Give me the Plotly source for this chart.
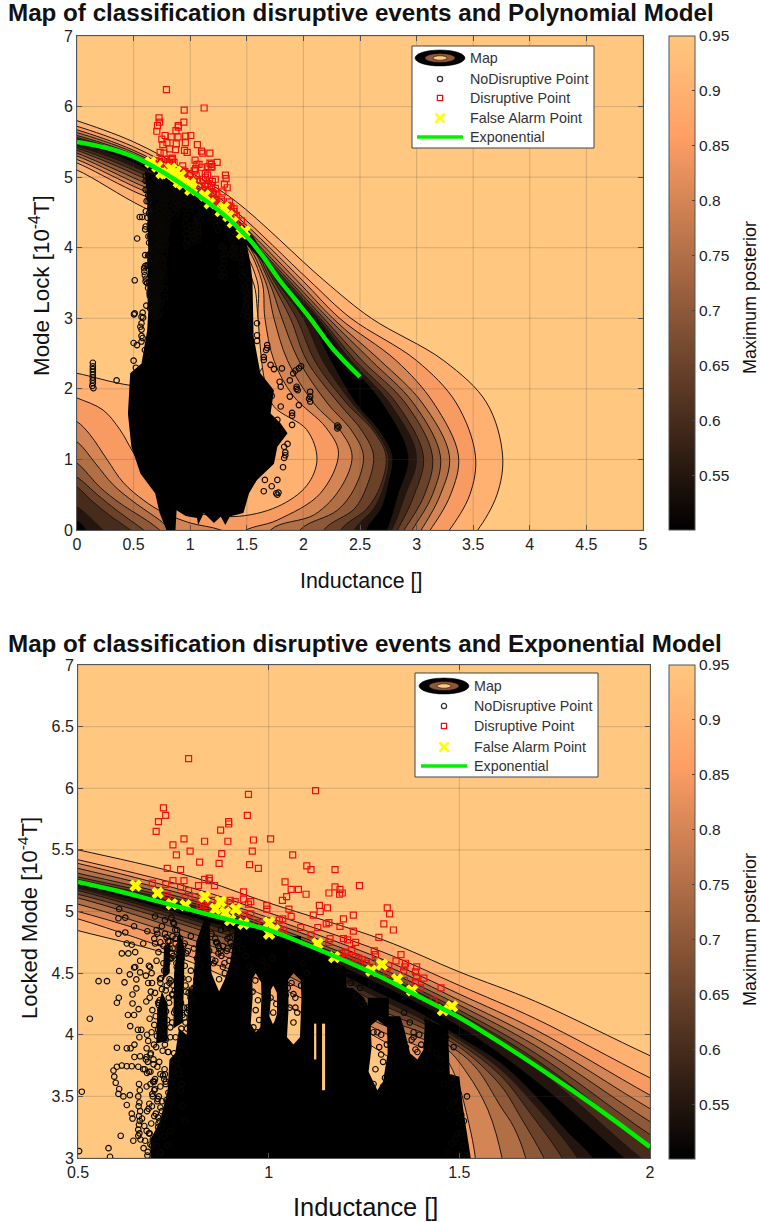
import plotly.graph_objects as go

# ---------- shared measured points (x = inductance, y = locked mode) ----------
DISRUPT_X = [.79,.947,1.123,.724,.711,.73,.705,.944,.895,.895,.874,.778,.749,.832,.893,.96,1.005,.794,.758,.877,.957,1.063,.819,.87,.95,.973,.734,.769,1.10,1.111,1.174,.749,.778,.832,.844,.844,.695,.73,.769,.816,.858,.79,1.043,1.059,1.078,1.098,1.174,1.187,1.193,1.186,1.158,1.238,.934,.934,.953,.947,1.047,1.036,1.133,1.154,1.135,.995,.995,1.053,1.059,1.117,1.222,1.196,.953,.934,1.037,1.028,1.084,1.129,1.158,1.151,1.187,1.222,1.111,1.161,1.196,1.207,1.228,1.218,1.158,.982,.969,.734,.781,.807,.899,.912,.899,.851,.829,.838,.82,1.039,1.03,1.311,1.317,1.302,1.327,1.289,1.277,1.28,1.347,1.334,1.359,1.357,1.354,1.388,1.385,1.388,1.407,1.385,1.398,1.452,1.272,1.315,1.31,1.356,1.192,1.197,1.201,1.205,1.227,1.236,1.245,1.254,1.433]
DISRUPT_Y = [6.24,5.95,5.98,5.84,5.73,5.78,5.65,5.78,5.73,5.71,5.66,5.59,5.54,5.57,5.57,5.58,5.59,5.49,5.46,5.47,5.49,5.46,5.40,5.39,5.38,5.35,5.35,5.34,5.37,5.34,5.34,5.25,5.25,5.26,5.27,5.25,5.23,5.22,5.20,5.21,5.21,5.17,5.24,5.18,5.18,5.14,5.20,5.18,5.15,5.14,5.15,5.21,5.16,5.10,5.08,5.06,5.12,5.09,5.05,5.03,5.0,5.05,5.02,5.02,4.96,4.97,4.97,4.94,4.98,4.97,4.94,4.93,4.87,4.87,4.91,4.90,4.88,4.84,4.81,4.78,4.78,4.77,4.75,4.69,4.75,4.91,4.91,5.13,5.12,5.12,5.09,5.08,5.06,5.09,5.05,5.03,5.05,4.85,4.85,5.03,4.98,4.90,4.85,4.79,4.68,4.65,4.65,4.60,4.58,4.55,4.52,4.55,4.51,4.47,4.46,4.43,4.38,4.38,4.59,4.56,4.50,4.44,4.66,4.63,4.67,4.63,4.63,4.62,4.61,4.58,4.28]
FALSE_X = [.651,.709,.746,.782,.832,.874,.86,.886,.914,.899,.934,1.001,1.015,1.001,1.128,1.172,1.269,1.297,1.337,1.376,1.481,1.457]
FALSE_Y = [5.21,5.15,5.06,5.05,5.12,5.08,5.02,4.99,5.02,4.93,4.90,4.91,4.85,4.82,4.74,4.63,4.52,4.57,4.45,4.36,4.23,4.20]

NO_LEFT_X = [.554,.576,.608,.531,.51,.503,.58,.584,.612,.602,.607,.622,.636,.663,.647,.653,.643,.653,.643,.631,.647,.659,.637,.602,.628,.638,.648,.661,.657,.666,.68,.648,.663,.678,.593,.602,.615,.628,.641,.658,.671,.681,.595,.599,.608,.606,.619,.636,.628,.641,.643,.645,.658]
NO_LEFT_Y = [4.435,4.435,4.517,4.13,3.538,3.056,3.08,3.01,3.18,4.26,4.30,4.425,4.49,4.506,4.546,4.449,4.327,4.376,4.254,4.16,4.16,4.208,4.07,3.895,3.89,3.89,3.92,3.98,4.04,4.04,3.89,3.82,3.825,3.80,3.71,3.74,3.75,3.745,3.745,3.74,3.72,3.69,3.66,3.61,3.56,3.52,3.5,3.51,3.43,3.36,3.32,3.14,3.18]
NO_COLUMN_X = [.66,.662,.658,.661,.659,.663,.66,.662,.66,.658,.661,.664]
NO_COLUMN_Y = [3.6,3.55,3.5,3.45,3.42,3.38,3.34,3.3,3.27,3.23,3.2,3.15]
NO_HIGH_X = [.608,.606,.624,.647,.606,.624,.682,.702,.706,.75,.728,.755,.628,.641,.65,.615,.632,.663,.671,.702,.711,.733,.746,.706,.737,.65,.689,.759]
NO_HIGH_Y = [5.02,4.945,4.95,4.88,4.82,4.83,4.84,4.96,4.85,4.91,4.93,4.85,4.74,4.73,4.67,4.66,4.66,4.6,4.74,4.74,4.67,4.70,4.66,4.6,4.62,4.55,4.55,4.55]
NO_EDGE_X = [.684,.691,.679,.695,.688,.7,.693,.684,.705,.69,.698,.686,.702,.68,.695,.708,.685,.7,.692,.68,.706,.69,.683,.7,.693,.688,.704,.681,.697,.71,.715,.72,.712,.725,.718,.73,.722,.713,.728,.716,.732,.72,.711,.726,.735,.718,.73,.714,.727,.72,.733,.716,.724,.737,.73,.738,.742,.745,.74,.748,.752,.756,.76,.765,.77,.775,.78,.773,.763,.752,.742,.747,.768,.783,.79,.796]
NO_EDGE_Y = [4.42,4.35,4.27,4.2,4.13,4.08,4.02,3.95,3.9,3.84,3.76,3.7,3.64,3.58,3.52,3.46,3.4,3.34,3.28,3.22,3.17,3.11,3.05,3.02,4.5,4.3,4.15,4.0,3.62,3.33,4.45,4.37,4.24,4.16,4.05,3.96,3.87,3.78,3.68,3.58,3.47,3.38,3.28,3.18,3.1,3.04,4.52,4.28,3.72,3.25,4.4,4.2,4.03,3.86,3.62,3.42,3.22,4.62,4.45,4.32,4.18,3.98,3.8,3.68,3.55,3.42,3.3,3.6,3.72,3.85,3.98,4.1,4.25,4.35,4.45,4.52]
NO_GAPS_X = [.86,.87,.88,.865,.89,.875,.885,.897,.905,.87,.965,.958,.972,.966,.975,.96,.97,1.005,1.02,1.035,1.05,1.065,1.07,1.012,1.03,1.045,1.06,1.075,1.02,1.04,1.055,1.07,1.065,1.085,1.215,1.225,1.24,1.23,1.245,1.275,1.29,1.3,1.28,1.295,1.305,1.285,1.3,1.31,1.275,1.295,1.355,1.37,1.38,1.36,1.375,1.385,1.395,1.4,1.38,1.39,1.48,1.49,1.485,1.495,1.5,1.505,1.49,1.51,1.5,1.515,1.505,1.52,1.512,1.495,1.48,1.47,1.46,1.45,1.44,1.475,1.465,1.45,1.485,1.415,1.425]
NO_GAPS_Y = [4.6,4.7,4.55,4.75,4.68,4.85,4.5,4.6,4.72,4.45,4.44,4.35,4.28,4.2,4.12,4.06,4.02,4.3,4.25,4.2,4.38,4.33,4.22,4.18,4.14,4.32,4.42,4.18,4.08,4.12,4.22,4.3,4.1,4.4,4.42,4.48,4.38,4.32,4.25,4.02,3.9,3.78,3.72,3.84,3.65,4.02,3.58,3.92,3.6,4.0,4.18,4.1,4.02,3.9,3.96,3.88,4.0,3.92,3.98,3.86,3.65,3.55,3.45,3.38,3.28,3.2,3.15,3.1,3.03,3.02,3.35,3.5,3.3,3.2,3.12,3.05,3.6,3.72,3.85,3.4,3.98,3.8,3.9,4.12,4.18]
NO_DENSE_X = [.672,.676,.682,.688,.694,.668,.674,.681,.687,.696,.702,.709,.716,.723,.73,.737,.744,.751,.758,.765,.772,.779,.786,.675,.683,.691,.699,.707,.715,.723,.731,.739,.747,.755,.763,.771,.779,.787,.795,.803,.81,.678,.686,.694,.702,.71,.718,.726,.734,.742,.75,.758,.766,.774,.782,.79,.798,.806,.814,.7,.708,.716,.724,.732,.74,.748,.756,.764,.772,.78,.788,.796,.804,.812,.82,.828,.836,.844,.852,.86,.868,.876,.884,.892,.9,.908,.84,.85,.862,.874,.886,.898,.91,.856,.868,.88,.892,.904,.92,.93,.94,.95,.985,.995,1.01,1.09,1.1,1.11]
NO_DENSE_Y = [3.08,3.14,3.02,3.2,3.1,3.32,3.26,3.38,3.44,3.5,3.56,3.48,3.41,3.67,3.6,3.53,3.62,3.7,3.77,3.84,3.91,3.98,4.05,3.72,3.78,3.85,3.92,3.99,4.06,4.12,4.19,4.26,4.33,4.2,4.12,4.05,4.14,4.22,4.3,4.38,4.45,4.48,4.56,4.42,4.34,4.26,4.46,4.52,4.58,4.62,4.4,4.31,4.24,4.16,4.1,4.2,4.29,4.38,4.47,4.78,4.82,4.75,4.72,4.79,4.76,4.7,4.78,4.72,4.65,4.74,4.68,4.8,4.7,4.62,4.56,4.8,4.74,4.68,4.61,4.78,4.72,4.64,4.58,4.7,4.75,4.62,4.9,4.82,4.75,4.68,4.86,4.79,4.72,4.58,4.66,4.72,4.78,4.84,4.76,4.7,4.64,4.55,4.6,4.55,4.62,4.58,4.5,4.65]
NO_MORE_X = [.745,.752,.76,.768,.776,.784,.748,.756,.764,.772,.78,.74,.75,.758,.766,.774,.782,.79,.744,.754,.762,.77,.778,.786,.72,.728,.736,.724,.732,.74,.716,.73,.738,.712,.722,.734,.742,.71,.72,.728,.736,.698,.708,.716,.726,.69,.7,.712,.72,.694,.704,.714,.686,.696,.706,.716,.68,.69,.7,.71]
NO_MORE_Y = [4.95,4.9,4.85,4.78,4.72,4.66,4.8,4.74,4.68,4.62,4.56,4.7,4.64,4.58,4.52,4.46,4.4,4.34,4.44,4.36,4.3,4.26,4.22,4.18,4.88,4.82,4.76,4.58,4.52,4.42,4.42,4.36,4.3,4.26,4.18,4.12,4.06,4.04,3.98,3.92,3.86,3.8,3.74,3.68,3.64,3.6,3.55,3.5,3.46,3.42,3.36,3.3,3.2,3.15,3.1,3.05,3.82,3.7,3.62,3.25]
NO_LOW_X = [.14,.14,.14,.14,.14,.14,.14,.14,.135,.145,.35,.51,.5,.57,.57,.57,.57,.57,.56,.58,.65,.6,.62,.53,.52,.5,1.59,1.59,1.59,1.68,1.68,1.67,1.65,1.65,1.71,1.74,1.81,1.96,1.98,1.91,1.93,1.88,1.8,1.94,1.94,1.95,2.06,2.06,2.06,2.05,1.96,1.88,1.9,1.9,1.9,2.3,2.3,2.31,1.8,1.77,1.84,1.84,1.83,1.82,1.77,1.66,1.65,1.76,1.77,1.78,1.72,1.83,1.76,1.75,1.86,1.79,1.72]
NO_LOW_Y = [2.37,2.32,2.28,2.24,2.2,2.16,2.12,2.08,2.04,2.01,2.12,3.07,2.65,3.02,2.93,2.84,2.75,2.67,2.88,2.72,3.19,2.55,2.48,2.62,2.3,2.4,2.93,2.76,2.68,2.62,2.58,2.55,2.45,2.41,2.34,2.28,2.29,2.29,2.32,2.22,2.26,2.12,2.03,2.03,2.0,1.98,1.96,1.89,1.82,1.86,1.77,1.89,1.66,1.62,1.49,1.48,1.44,1.46,1.75,1.56,1.1,1.06,1.02,.89,.71,.71,.55,.52,.5,.53,.62,1.18,1.32,1.45,1.22,2.1,1.9]

GREEN_TOP_X = [0,.25,.5,.75,1,1.25,1.5,1.65,1.78,1.92,2.06,2.27,2.5]
GREEN_TOP_Y = [5.5,5.42,5.29,5.08,4.82,4.53,4.16,3.86,3.56,3.28,3.0,2.55,2.17]
GREEN_BOT_X = [.5,.6,.7,.8,.9,1,1.1,1.2,1.3,1.4,1.5,1.6,1.7,1.8,1.9,2]
GREEN_BOT_Y = [5.24,5.17,5.09,5.01,4.93,4.85,4.73,4.6,4.46,4.3,4.14,3.95,3.75,3.54,3.32,3.09]

# ---------- read-off level curves of the posterior map ----------
BAND_COLORS = ['#FFB171','#F89B63','#D48555','#B16F46','#8E5939','#6A422A','#472C1C','#24160E','#000000']

TOP_UPPER_LEFT_X = [-.2,0,.5,1,1.4]
TOP_UPPER_LEFT_Y = [[5.9,5.80,5.50,5.07,4.66],[5.8,5.72,5.43,5.0,4.52],[5.75,5.67,5.38,4.95,4.46],[5.7,5.63,5.35,4.92,4.41],[5.66,5.59,5.32,4.89,4.36],[5.62,5.56,5.30,4.87,4.33],[5.59,5.54,5.28,4.85,4.3],[5.56,5.52,5.27,4.83,4.28],[5.54,5.50,5.26,4.81,4.2]]
TOP_UPPER_RIGHT_Y = [3.54,3,2.4,1.8,1.05,.5,0,-.2]
TOP_UPPER_RIGHT_X = [[2.18,2.6,3.24,3.62,3.76,3.71,3.54,3.42],[2.05,2.42,3.0,3.35,3.52,3.47,3.29,3.18],[1.99,2.32,2.82,3.15,3.37,3.3,3.12,3.02],[1.94,2.26,2.68,3.05,3.29,3.21,3.04,2.95],[1.90,2.22,2.6,2.97,3.21,3.14,2.96,2.88],[1.87,2.18,2.52,2.9,3.14,3.07,2.89,2.81],[1.845,2.15,2.46,2.82,3.06,2.98,2.83,2.75],[1.82,2.13,2.42,2.76,3.0,2.9,2.78,2.7],[1.80,2.11,2.39,2.7,2.93,2.84,2.74,2.66]]
TOP_INNER = [
 [(3.3,-.5),(-.5,-.5),(-.4,2.3),(-.2,2.27),(0,2.22),(.47,2.05),(1,2.0),(1.5,2.1),(1.65,2.35),(1.6,3.0),(1.55,3.54),(1.3,4.1),(.59,4.57),(0,5.1),(-.2,5.2)],
 [(3.1,-.5),(-.5,-.5),(-.4,2.05),(-.2,1.98),(0,1.87),(.23,1.70),(.38,1.42),(.5,1.09),(.7,.6),(.95,.3),(1.38,.19),(1.77,.33),(2.03,.63),(2.12,1.0),(2.03,1.42),(1.74,1.75),(1.66,2.1),(1.6,3.0),(1.59,3.54),(1.35,4.2),(.5,4.8),(0,5.2),(-.2,5.3)],
 [(2.9,-.5),(1.35,-.5),(1.45,-.05),(1.77,.14),(2.15,.52),(2.31,1.09),(2.2,1.45),(1.91,1.9),(1.74,2.4),(1.66,3.0),(1.63,3.54),(1.4,4.2),(.5,4.87),(0,5.25),(-.2,5.35)],
 [(2.85,-.5),(1.6,-.5),(1.71,0),(2.1,.22),(2.33,.6),(2.43,1.05),(2.33,1.4),(2.09,1.8),(1.86,2.4),(1.74,3.0),(1.66,3.54),(1.4,4.25),(.5,4.93),(0,5.3),(-.2,5.4)],
 [(2.8,-.5),(1.85,-.5),(1.97,0),(2.3,.28),(2.46,.62),(2.53,1.05),(2.43,1.4),(2.21,1.8),(1.96,2.4),(1.81,3.0),(1.69,3.54),(1.42,4.28),(.5,4.99),(0,5.34),(-.2,5.45)],
 [(2.75,-.5),(2.08,-.5),(2.18,0),(2.45,.3),(2.56,.62),(2.62,1.05),(2.52,1.4),(2.31,1.8),(2.03,2.4),(1.885,3),(1.71,3.54),(1.44,4.3),(.5,5.05),(0,5.38),(-.2,5.48)],
 [(2.7,-.5),(2.25,-.5),(2.33,0),(2.56,.3),(2.68,.62),(2.73,1.05),(2.62,1.4),(2.38,1.8),(2.1,2.4),(1.94,3),(1.735,3.54),(1.46,4.3),(.5,5.1),(0,5.41),(-.2,5.5)],
 [(2.65,-.5),(2.38,-.5),(2.45,0),(2.62,.3),(2.71,.62),(2.75,1.05),(2.64,1.4),(2.43,1.8),(2.17,2.4),(2.0,3),(1.755,3.54),(1.47,4.32),(.5,5.15),(0,5.44),(-.2,5.52)],
 [(2.6,-.5),(2.48,-.5),(2.55,0),(2.68,.3),(2.74,.62),(2.78,1.05),(2.67,1.4),(2.46,1.8),(2.24,2.4),(2.05,3),(1.77,3.54),(1.48,4.18),(.5,5.2),(0,5.47),(-.2,5.52)],
]
TOP_POCKET = [
 None, None,
 [(-.5,-.5),(-.4,1.75),(-.2,1.66),(0,1.535),(.115,1.35),(.265,1.0),(.41,.67),(.59,.42),(.76,.25),(1.0,.1),(1.27,0),(1.5,-.2),(1.5,-.5)],
 [(-.5,-.5),(-.4,1.45),(-.2,1.4),(0,1.25),(.16,.95),(.32,.64),(.5,.4),(.73,.14),(.82,.02),(1,-.2),(1,-.5)],
 [(-.5,-.5),(-.4,1.2),(-.2,1.12),(0,.95),(.2,.61),(.38,.38),(.65,.1),(.73,0),(.9,-.2),(.9,-.5)],
 [(-.5,-.5),(-.4,1.0),(-.2,.92),(0,.75),(.18,.5),(.35,.28),(.59,0),(.75,-.2),(.75,-.5)],
 [(-.5,-.5),(-.4,.85),(-.2,.77),(0,.61),(.14,.4),(.32,.17),(.47,0),(.6,-.2),(.6,-.5)],
 [(-.5,-.5),(-.4,.55),(-.2,.48),(0,.33),(.12,.17),(.23,0),(.4,-.2),(.4,-.5)],
 [(-.5,-.5),(-.4,.3),(-.2,.25),(0,.14),(.09,0),(.2,-.2),(.2,-.5)],
]

BOT_UPPER_X = [.3,.5,.8,1.0,1.3,1.5,1.7,2.0,2.2]
BOT_UPPER_Y = [[5.62,5.50,5.28,5.07,4.77,4.51,4.27,3.83,3.55],[5.55,5.42,5.19,4.99,4.67,4.40,4.13,3.65,3.35],[5.52,5.39,5.15,4.95,4.61,4.33,4.04,3.51,3.18],[5.49,5.35,5.12,4.92,4.57,4.28,3.97,3.40,3.05],[5.44,5.31,5.09,4.89,4.53,4.24,3.91,3.295,2.92],[5.41,5.28,5.07,4.87,4.50,4.20,3.85,3.19,2.8],[5.39,5.26,5.05,4.85,4.48,4.17,3.80,3.10,2.7],[5.38,5.25,5.03,4.83,4.45,4.12,3.73,2.94,2.5],[5.36,5.235,5.0,4.81,4.40,4.07,3.63,2.82,2.3]]
BOT_LOWER = [
 [(2.3,2.4),(1.45,2.6),(1.45,3),(1.40,3.55),(1.3,3.85),(1.0,4.3),(.77,4.62),(.5,4.845),(.3,5.0)],
 [(2.3,2.4),(1.5,2.6),(1.50,3),(1.47,3.5),(1.4,3.75),(1.3,3.95),(1.0,4.42),(.8,4.63),(.5,4.94),(.3,5.1)],
 [(2.3,2.4),(1.55,2.6),(1.542,3),(1.525,3.28),(1.494,3.63),(1.459,3.82),(1.4,3.90),(1.3,4.02),(1.0,4.50),(.8,4.72),(.5,5.0),(.3,5.15)],
 [(2.3,2.4),(1.63,2.6),(1.612,3),(1.575,3.39),(1.52,3.69),(1.468,3.88),(1.4,3.97),(1.3,4.08),(1.0,4.55),(.8,4.77),(.5,5.06),(.3,5.2)],
 [(2.3,2.4),(1.7,2.6),(1.674,3),(1.643,3.25),(1.608,3.42),(1.547,3.72),(1.494,3.87),(1.4,4.02),(1.3,4.13),(1.0,4.60),(.8,4.82),(.5,5.11),(.3,5.24)],
 [(2.3,2.4),(1.78,2.6),(1.722,3),(1.66,3.335),(1.608,3.59),(1.5,3.90),(1.4,4.06),(1.3,4.19),(1.0,4.65),(.8,4.87),(.5,5.14),(.3,5.27)],
 [(2.3,2.4),(1.84,2.6),(1.77,3),(1.687,3.36),(1.608,3.67),(1.5,3.93),(1.4,4.10),(1.3,4.24),(1.0,4.69),(.8,4.90),(.5,5.17),(.3,5.3)],
 [(2.3,2.4),(1.88,2.6),(1.81,3),(1.695,3.44),(1.608,3.72),(1.5,3.96),(1.4,4.13),(1.3,4.28),(1.0,4.73),(.8,4.93),(.5,5.19),(.3,5.32)],
 [(2.3,2.4),(1.93,2.6),(1.849,3),(1.783,3.21),(1.7,3.50),(1.608,3.77),(1.5,3.98),(1.4,4.17),(1.3,4.32),(1.0,4.76),(.8,4.95),(.5,5.21),(.3,5.33)],
]

# ---------- outlines of the saturated (solid black) part of the NoDisruptive cloud ----------
TOP_CLOUD = [(.6,5.08),(.62,4.67),(.63,3.97),(.62,3.35),(.63,3.1),(.62,2.83),(.57,2.36),(.47,2.22),(.45,1.65),(.48,1.18),(.56,.8),(.69,.52),(.73,.24),(.79,0),(.87,0),(.88,.28),(.96,.2),(1.06,.17),(1.07,.07),(1.12,.24),(1.21,.1),(1.27,.19),(1.31,.07),(1.35,.19),(1.47,.24),(1.52,.52),(1.59,.71),(1.74,.94),(1.77,1.18),(1.86,1.37),(1.8,1.51),(1.71,1.65),(1.74,1.98),(1.62,2.22),(1.56,2.74),(1.55,3.54),(1.53,3.8),(1.48,4.2),(1.0,4.85)]
BOT_CLOUD = [(.69,2.9),(.69,3.15),(.715,3.3),(.735,3.55),(.74,3.8),(.755,3.85),(.765,4.05),(.785,4.0),(.79,4.4),(.80,4.35),(.81,4.75),(.83,4.93),(.845,4.95),(.85,4.5),(.87,4.35),(.885,4.45),(.9,4.6),(.915,4.93),(.955,4.88),(.958,4.3),(.953,4.09),(.966,4.02),(.978,4.06),(.981,4.3),(.978,4.86),(1.004,4.84),(1.006,4.3),(1.002,4.15),(1.012,4.08),(1.022,4.17),(1.02,4.8),(1.05,4.78),(1.052,4.2),(1.048,3.98),(1.065,3.92),(1.082,3.98),(1.086,4.3),(1.08,4.72),(1.119,4.7),(1.119,3.8),(1.125,3.8),(1.125,4.66),(1.14,4.64),(1.14,3.55),(1.148,3.55),(1.148,4.62),(1.2,4.55),(1.205,4.38),(1.22,4.38),(1.25,4.3),(1.266,4.2),(1.27,3.9),(1.262,3.7),(1.285,3.55),(1.3,3.62),(1.312,3.85),(1.31,4.15),(1.345,4.15),(1.355,4.05),(1.371,3.85),(1.39,3.8),(1.406,3.88),(1.41,4.13),(1.47,4.05),(1.475,3.68),(1.5,3.66),(1.51,3.4),(1.525,3.1),(1.53,3.0),(1.53,2.9)]
BOT_CLOUD_CAPS = [
 [(.95,4.42),(.966,4.5),(.985,4.4),(.985,4.9),(.95,4.9)],
 [(1.0,4.33),(1.012,4.4),(1.025,4.32),(1.025,4.85),(1.0,4.85)],
 [(1.045,4.42),(1.065,4.5),(1.085,4.44),(1.085,4.8),(1.045,4.8)],
 [(1.112,4.09),(1.13,4.09),(1.13,4.72),(1.112,4.72)],
 [(1.135,4.09),(1.155,4.09),(1.155,4.66),(1.135,4.66)],
 [(1.26,4.05),(1.285,4.12),(1.315,4.05),(1.315,4.3),(1.26,4.3)],
 [(.705,3.93),(.735,3.95),(.735,4.25),(.72,4.35),(.708,4.2)],
 [(.75,4.05),(.775,4.1),(.78,4.7),(.765,4.85),(.752,4.5)],
 [(.722,4.45),(.74,4.5),(.742,4.75),(.726,4.72)],
]

TICKS_TOP_X = [0,.5,1,1.5,2,2.5,3,3.5,4,4.5,5]
TICKS_TOP_Y = [0,1,2,3,4,5,6,7]
TICKS_BOT_X = [.5,1,1.5,2]
TICKS_BOT_Y = [3,3.5,4,4.5,5,5.5,6,6.5,7]
LEGEND_LABELS = ['Map','NoDisruptive Point','Disruptive Point','False Alarm Point','Exponential']
CB_TICKS = [.55,.6,.65,.7,.75,.8,.85,.9,.95]
COPPER = [[0,'rgb(0,0,0)'],[.8,'rgb(255,159,102)'],[1,'rgb(255,199,127)']]

NO_PAIRS = []
for xs, ys in [(NO_LEFT_X, NO_LEFT_Y), (NO_COLUMN_X, NO_COLUMN_Y), (NO_HIGH_X, NO_HIGH_Y), (NO_EDGE_X, NO_EDGE_Y),
               (NO_GAPS_X, NO_GAPS_Y), (NO_DENSE_X, NO_DENSE_Y), (NO_MORE_X, NO_MORE_Y)]:
    NO_PAIRS += list(zip(xs, ys))
NO_X = [p[0] for p in NO_PAIRS]
NO_Y = [p[1] for p in NO_PAIRS]
LOW_PAIRS = list(zip(NO_LOW_X, NO_LOW_Y))
LOW_X = [p[0] for p in LOW_PAIRS]
LOW_Y = [p[1] for p in LOW_PAIRS]

W, H = 760, 1222
def px(x): return x / W
def py(y): return 1 - y / H

fig = go.Figure()
LINE = '#1c1612'

def poly(points, color, xa, ya, name='Map', shape='spline', lw=1):
    fig.add_trace(go.Scatter(x=[p[0] for p in points], y=[p[1] for p in points], mode='lines', fill='toself',
                             fillcolor=color, line=dict(color=LINE if lw else color, width=lw, shape=shape, simplify=False),
                             xaxis=xa, yaxis=ya, name=name, hoverinfo='skip', showlegend=False))

def grid(xt, yt, xr, yr, xa, ya):
    gx, gy = [], []
    for t in xt:
        gx += [t, t, None]; gy += [yr[0], yr[1], None]
    for t in yt:
        gx += [xr[0], xr[1], None]; gy += [t, t, None]
    fig.add_trace(go.Scatter(x=gx, y=gy, mode='lines', line=dict(color='rgba(70,70,70,0.22)', width=1),
                             xaxis=xa, yaxis=ya, hoverinfo='skip', showlegend=False))

def points(nx, ny, gx, gy, xa, ya, clouds):
    for c in clouds:
        poly(c, '#000000', xa, ya, name='NoDisruptive Point', shape='linear', lw=0)
    fig.add_trace(go.Scatter(x=nx, y=ny, mode='markers', name='NoDisruptive Point', xaxis=xa, yaxis=ya, showlegend=False,
                             marker=dict(symbol='circle-open', size=5.5, color='#0a0805', line=dict(width=1.1))))
    fig.add_trace(go.Scatter(x=DISRUPT_X, y=DISRUPT_Y, mode='markers', name='Disruptive Point', xaxis=xa, yaxis=ya, showlegend=False,
                             marker=dict(symbol='square-open', size=6, color='#F01010', line=dict(width=1.2))))
    fig.add_trace(go.Scatter(x=FALSE_X, y=FALSE_Y, mode='markers', name='False Alarm Point', xaxis=xa, yaxis=ya, showlegend=False,
                             marker=dict(symbol='x', size=11, color='#FFFF00', line=dict(width=0))))
    fig.add_trace(go.Scatter(x=gx, y=gy, mode='lines', name='Exponential', xaxis=xa, yaxis=ya, showlegend=False,
                             line=dict(color='#00F000', width=4.5, shape='spline')))

def colorbar_trace(xa, ya, top):
    fig.add_trace(go.Scatter(x=[-9, -9], y=[-9, -9], mode='markers', xaxis=xa, yaxis=ya, showlegend=False, hoverinfo='skip',
                             marker=dict(size=1, color=[.5, .95], cmin=.5, cmax=.95, colorscale=COPPER,
                                         colorbar=dict(x=px(669), xanchor='left', y=py(top), yanchor='top', len=494/H, lenmode='fraction',
                                                       thickness=26, thicknessmode='pixels', xpad=0, ypad=0,
                                                       tickvals=CB_TICKS, ticktext=[f'{v:g}' for v in CB_TICKS],
                                                       ticks='inside', ticklen=3, tickcolor='#444', outlinecolor='#555', outlinewidth=1,
                                                       tickfont=dict(size=15.5, color='#222')))))

# top panel
for k, col in enumerate(BAND_COLORS):
    up = list(zip(TOP_UPPER_LEFT_X, TOP_UPPER_LEFT_Y[k])) + list(zip(TOP_UPPER_RIGHT_X[k], TOP_UPPER_RIGHT_Y))
    poly(up + TOP_INNER[k], col, 'x', 'y')
    if TOP_POCKET[k]:
        poly(TOP_POCKET[k], col, 'x', 'y')
grid(TICKS_TOP_X, TICKS_TOP_Y, (0, 5), (0, 7), 'x', 'y')
points(NO_X + LOW_X, NO_Y + LOW_Y, GREEN_TOP_X, GREEN_TOP_Y, 'x', 'y', [TOP_CLOUD])
colorbar_trace('x', 'y', 36)

# bottom panel
for k, col in enumerate(BAND_COLORS):
    poly(list(zip(BOT_UPPER_X, BOT_UPPER_Y[k])) + BOT_LOWER[k], col, 'x2', 'y2')
grid(TICKS_BOT_X, TICKS_BOT_Y, (.5, 2), (3, 7), 'x2', 'y2')
points(NO_X, NO_Y, GREEN_BOT_X, GREEN_BOT_Y, 'x2', 'y2', [BOT_CLOUD] + BOT_CLOUD_CAPS)
colorbar_trace('x2', 'y2', 665)

AX = dict(showgrid=False, zeroline=False, showline=True, linecolor='#555', linewidth=1, mirror='ticks',
          ticks='inside', ticklen=5, tickcolor='#555', tickfont=dict(size=16, color='#222'))
fig.update_layout(
    width=W, height=H, margin=dict(l=0, r=0, t=0, b=0, autoexpand=False), paper_bgcolor='white', plot_bgcolor='#FFC77F',
    font=dict(family='Liberation Sans, Arial, sans-serif', color='#111'), showlegend=False,
    xaxis=dict(AX, domain=[px(77), px(643)], range=[0, 5], tickvals=TICKS_TOP_X, ticktext=[f'{v:g}' for v in TICKS_TOP_X]),
    yaxis=dict(AX, domain=[py(530), py(36)], range=[0, 7], tickvals=TICKS_TOP_Y),
    xaxis2=dict(AX, domain=[px(78), px(650)], range=[.5, 2], anchor='y2', tickvals=TICKS_BOT_X, ticktext=[f'{v:g}' for v in TICKS_BOT_X]),
    yaxis2=dict(AX, domain=[py(1158), py(665)], range=[3, 7], anchor='x2', tickvals=TICKS_BOT_Y, ticktext=[f'{v:g}' for v in TICKS_BOT_Y]),
)

shapes, ann = [], []
def label(text, x, y, size, angle=0, anchor='center', color='#111'):
    ann.append(dict(text=text, xref='paper', yref='paper', x=px(x), y=py(y), xanchor=anchor, yanchor='middle',
                    showarrow=False, textangle=angle, font=dict(size=size, color=color)))
label('<b>Map of classification disruptive events and Polynomial Model</b>', 5.5, 12, 24.2, anchor='left')
label('<b>Map of classification disruptive events and Exponential Model</b>', 5.5, 643, 24.2, anchor='left')
label('Inductance []', 361, 581, 21.4)
label('Inductance []', 365, 1207, 25.4)
label('Mode Lock [10<sup>-4</sup>T]', 40, 286, 22.4, angle=-90)
label('Locked Mode [10<sup>-4</sup>T]', 28, 918, 22, angle=-90)
label('Maximum posterior', 750, 298, 18, angle=-90)
label('Maximum posterior', 750, 930, 18, angle=-90)

def legend(x0, y0, x1, y1, cx, tx, rows):
    shapes.append(dict(type='rect', xref='paper', yref='paper', x0=px(x0), x1=px(x1), y0=py(y0), y1=py(y1),
                       fillcolor='white', line=dict(color='#444', width=1)))
    r = rows[0]
    for rx, ry, c in [(25, 8, '#000000'), (15, 4.5, '#8E5939'), (7, 2.2, '#FFC77F')]:
        shapes.append(dict(type='circle', xref='paper', yref='paper', x0=px(cx-rx), x1=px(cx+rx), y0=py(r+ry), y1=py(r-ry),
                           fillcolor=c, line=dict(color='#000', width=.5)))
    r = rows[1]
    shapes.append(dict(type='circle', xref='paper', yref='paper', x0=px(cx-2.6), x1=px(cx+2.6), y0=py(r+2.6), y1=py(r-2.6),
                       line=dict(color='#333', width=1.3)))
    r = rows[2]
    shapes.append(dict(type='rect', xref='paper', yref='paper', x0=px(cx-2.6), x1=px(cx+2.6), y0=py(r+2.6), y1=py(r-2.6),
                       line=dict(color='#F01010', width=1.3)))
    r = rows[3]
    for s in (1, -1):
        shapes.append(dict(type='line', xref='paper', yref='paper', x0=px(cx-4.5), x1=px(cx+4.5), y0=py(r-4.5*s), y1=py(r+4.5*s),
                           line=dict(color='#FFFF00', width=2.5)))
    r = rows[4]
    shapes.append(dict(type='line', xref='paper', yref='paper', x0=px(cx-23), x1=px(cx+23), y0=py(r), y1=py(r),
                       line=dict(color='#00F000', width=3.5)))
    for lab, r in zip(LEGEND_LABELS, rows):
        label(lab, tx, r, 14.3, anchor='left', color='#333')
legend(412, 46, 594, 148, 440, 468, [58, 79, 98, 118, 137])
legend(415, 673, 598, 777, 444, 472, [686, 706, 726, 747, 766])
fig.update_layout(shapes=shapes, annotations=ann)

fig.write_html('out.html', config={'displayModeBar': False},
               post_script="document.body.style.margin='0';document.documentElement.style.overflow='hidden';")
